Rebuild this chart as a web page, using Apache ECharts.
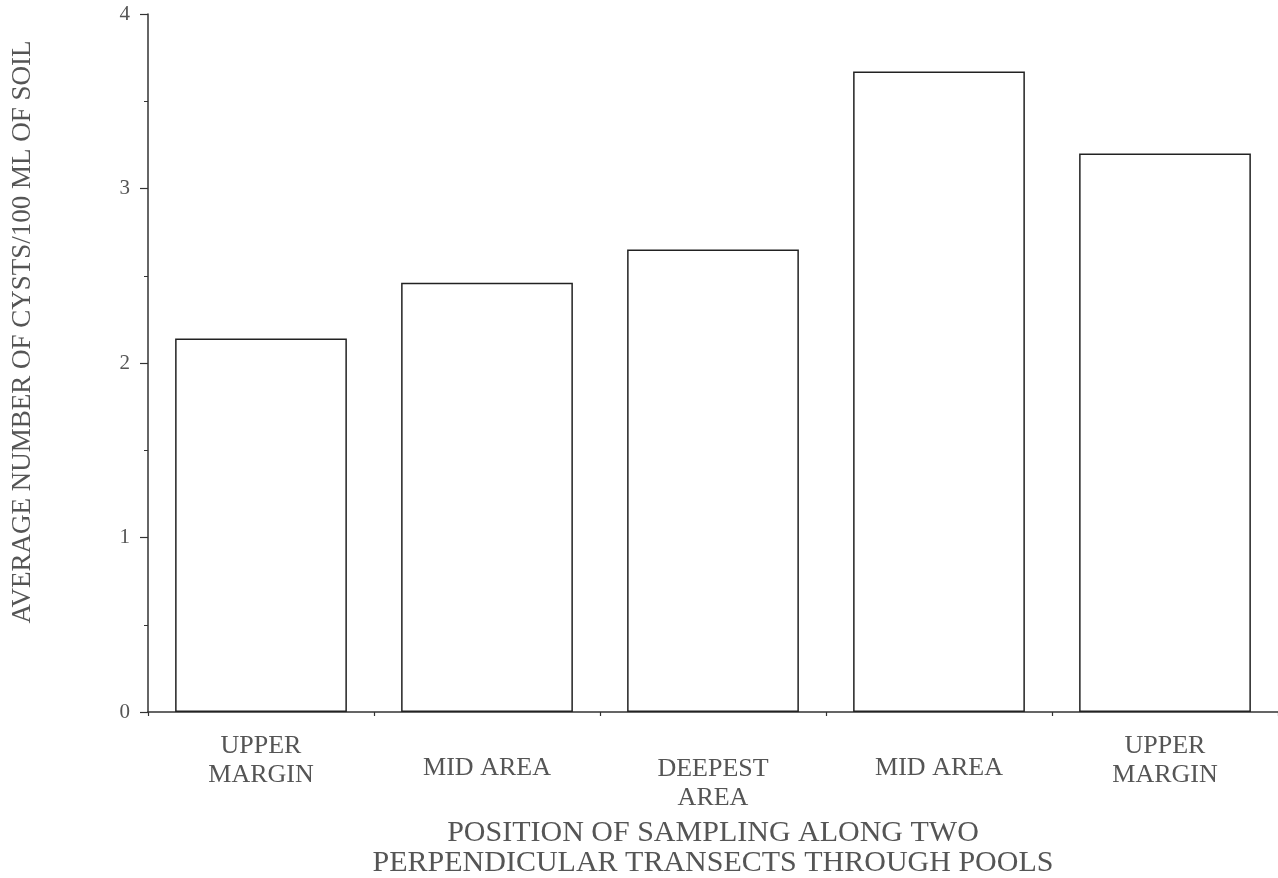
<!DOCTYPE html>
<html>
<head>
<meta charset="utf-8">
<script src="https://cdn.jsdelivr.net/npm/echarts@6/dist/echarts.min.js"></script>
<style>html,body{margin:0;padding:0;background:#fff;}#c{width:1278px;height:878px;}</style>
</head>
<body>
<div id="c"></div>
<script>
var categories = ['UPPER\nMARGIN', 'MID AREA', 'DEEPEST\nAREA', 'MID AREA', 'UPPER\nMARGIN'];
var values = [2.14, 2.46, 2.65, 3.67, 3.20];
var yTicks = [0, 1, 2, 3, 4];
var xTitle = 'POSITION OF SAMPLING ALONG TWO\nPERPENDICULAR TRANSECTS THROUGH POOLS';
var yTitle = 'AVERAGE NUMBER OF CYSTS/100 ML OF SOIL';

var FONT = '"Liberation Serif", "DejaVu Serif", serif';
var TXT = '#555';
var LINE = '#333';
var labelPad = [0, 22, 23, 22, 0];

var chart = echarts.init(document.getElementById('c'), null, {renderer: 'canvas'});
chart.setOption({
  backgroundColor: '#fff',
  animation: false,
  grid: {left: 148, right: 0, top: 14, bottom: 166, containLabel: false, outerBoundsMode: 'none'},
  xAxis: {
    type: 'category',
    data: categories.map(function (c, i) {
      return {value: c, textStyle: {padding: [labelPad[i], 0, 0, 0]}};
    }),
    boundaryGap: true,
    axisLine: {show: true, lineStyle: {color: LINE, width: 1.5}},
    axisTick: {show: true, length: 4, alignWithLabel: false, lineStyle: {color: LINE, width: 1.2}},
    axisLabel: {
      color: TXT, fontFamily: FONT, fontSize: 26, lineHeight: 29, margin: 20, interval: 0
    },
    splitLine: {show: false},
    name: xTitle,
    nameLocation: 'middle',
    nameGap: 104,
    nameTextStyle: {color: TXT, fontFamily: FONT, fontSize: 30, lineHeight: 30}
  },
  yAxis: {
    type: 'value',
    min: yTicks[0],
    max: yTicks[yTicks.length - 1],
    interval: 1,
    axisLine: {show: true, lineStyle: {color: LINE, width: 1.5}},
    axisTick: {show: true, length: 8, inside: false, lineStyle: {color: LINE, width: 1.2}},
    minorTick: {show: true, splitNumber: 2, length: 4, lineStyle: {color: LINE, width: 1}},
    axisLabel: {color: TXT, fontFamily: FONT, fontSize: 21, margin: 18},
    splitLine: {show: false},
    name: yTitle,
    nameLocation: 'middle',
    nameGap: 112,
    nameRotate: 90,
    nameTextStyle: {color: TXT, fontFamily: FONT, fontSize: 27, padding: [0, 0, 0, 62]}
  },
  series: [{
    type: 'bar',
    data: values,
    barCategoryGap: '24%',
    itemStyle: {color: '#fff', borderColor: '#222', borderWidth: 1.5},
    emphasis: {disabled: true}
  }]
});
</script>
</body>
</html>
